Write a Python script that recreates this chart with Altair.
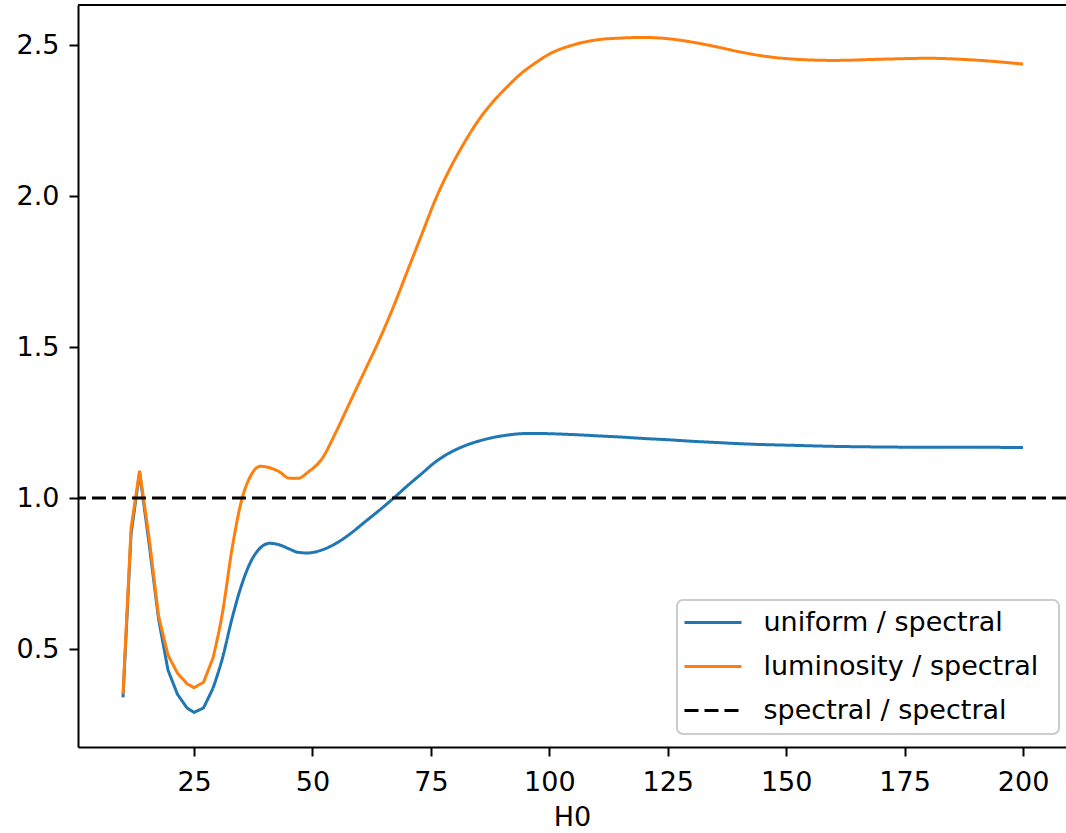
import altair as alt
import pandas as pd

# Hubble-constant grid and likelihood ratios for each prior
h0 = [10, 11.7, 13.5, 15.5, 17.5, 19.5, 21.5, 23.5, 25, 27, 29, 31, 33, 35, 37, 39,
      41, 43, 45, 47, 49, 52, 55, 58, 61, 64, 67, 70, 73, 76, 79, 82, 85, 88, 91, 94,
      97, 100, 105, 110, 115, 120, 125, 130, 135, 140, 145, 150, 160, 170, 180, 190, 200]

uniform_ratio = [0.34, 0.88, 1.085, 0.85, 0.60, 0.43, 0.35, 0.305, 0.29, 0.305, 0.37,
                 0.47, 0.60, 0.71, 0.79, 0.835, 0.85, 0.845, 0.832, 0.82, 0.818, 0.828,
                 0.85, 0.882, 0.92, 0.958, 0.998, 1.04, 1.08, 1.12, 1.15, 1.172, 1.188,
                 1.2, 1.208, 1.213, 1.214, 1.213, 1.21, 1.206, 1.202, 1.197, 1.193,
                 1.188, 1.184, 1.18, 1.177, 1.175, 1.171, 1.169, 1.168, 1.168, 1.167]

luminosity_ratio = [0.35, 0.9, 1.09, 0.87, 0.61, 0.48, 0.42, 0.385, 0.372, 0.39, 0.47,
                    0.62, 0.83, 0.99, 1.075, 1.105, 1.1, 1.087, 1.066, 1.065, 1.085,
                    1.13, 1.22, 1.32, 1.42, 1.52, 1.63, 1.75, 1.87, 1.99, 2.09, 2.175,
                    2.25, 2.31, 2.36, 2.405, 2.44, 2.47, 2.5, 2.517, 2.523, 2.525,
                    2.521, 2.51, 2.495, 2.478, 2.464, 2.455, 2.449, 2.453, 2.456, 2.45,
                    2.437]

reference_level = [1.0]

series_names = ["uniform / spectral", "luminosity / spectral", "spectral / spectral"]
series_colors = ["#1f77b4", "#ff7f0e", "#000000"]
series_dashes = [[1, 0], [1, 0], [14, 6]]

x_ticks = [25, 50, 75, 100, 125, 150, 175, 200]
y_ticks = [0.5, 1.0, 1.5, 2.0, 2.5]

# the coarse low-H0 samples are joined straight; the rest is drawn smooth
SMOOTH_FROM = 29

W, H = 988, 742
FONT = "DejaVu Sans"
FS = 27

curves = pd.DataFrame({
    "H0": h0 * 2,
    "ratio": uniform_ratio + luminosity_ratio,
    "series": [series_names[0]] * len(h0) + [series_names[1]] * len(h0),
})
ref = pd.DataFrame({"ratio": reference_level, "series": [series_names[2]]})

legend = alt.Legend(
    title=None, orient="none", legendX=604.5, legendY=587,
    symbolType="stroke", symbolSize=3250, symbolStrokeWidth=3,
    labelFontSize=FS, labelFont=FONT, labelColor="#000000", labelOffset=20,
    labelLimit=600, rowPadding=0, padding=0,
)
color = alt.Color("series:N", scale=alt.Scale(domain=series_names, range=series_colors),
                  legend=legend)
dash = alt.StrokeDash("series:N", scale=alt.Scale(domain=series_names, range=series_dashes),
                      legend=legend)

x_enc = alt.X("H0:Q", title="H0",
              scale=alt.Scale(domain=[0.5, 209.07], nice=False, zero=False),
              axis=alt.Axis(values=x_ticks, format="d", grid=False))
y_enc = alt.Y("ratio:Q", title=None,
              scale=alt.Scale(domain=[0.1755, 2.6325], nice=False, zero=False),
              axis=alt.Axis(values=y_ticks, format=".1f", grid=False))

base = alt.Chart(curves).encode(
    x=x_enc, y=y_enc, color=color, strokeDash=dash, order=alt.Order("H0:Q"))

lines_low = base.transform_filter(alt.datum.H0 <= SMOOTH_FROM).mark_line(
    strokeWidth=3, clip=True)
lines_high = base.transform_filter(alt.datum.H0 >= SMOOTH_FROM).mark_line(
    strokeWidth=3, clip=True, interpolate="monotone")

hline = alt.Chart(ref).mark_rule(strokeWidth=3).encode(
    y=alt.Y("ratio:Q"), color=alt.Color("series:N"), strokeDash=alt.StrokeDash("series:N"))

top_spine = alt.Chart(pd.DataFrame({"k": [0]})).mark_rule(
    color="#000000", strokeWidth=2).encode(
    x=alt.value(0), x2=alt.value(W), y=alt.value(0))

# translucent frame behind the legend entries
legend_frame = alt.Chart(pd.DataFrame({"k": [0]})).mark_rect(
    fill="#ffffff", fillOpacity=0.8, stroke="#cccccc", strokeWidth=2,
    cornerRadius=6).encode(
    x=alt.value(599), x2=alt.value(981), y=alt.value(595), y2=alt.value(729))

chart = alt.layer(lines_low, lines_high, hline, top_spine, legend_frame).properties(
    width=W, height=H,
    autosize=alt.AutoSizeParams(type="none"),
    padding={"left": 78, "top": 5, "right": 0, "bottom": 86},
    background="#ffffff",
).configure_view(stroke=None).configure_axis(
    domainColor="#000000", domainWidth=2, tickColor="#000000", tickWidth=2,
    tickSize=9, labelFont=FONT, labelFontSize=FS, labelColor="#000000",
    labelPadding=13, titleFont=FONT, titleFontSize=FS, titleFontWeight="normal",
    titleColor="#000000", titlePadding=9,
).configure_axisY(labelPadding=10)

chart.save("out.html", embed_options={"renderer": "svg", "actions": False})
